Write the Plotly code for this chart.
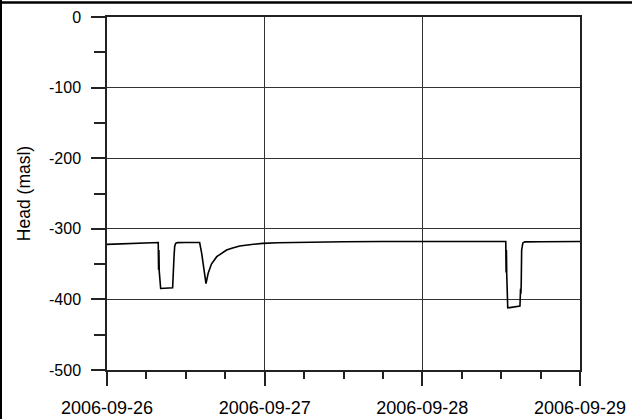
import plotly.graph_objects as go
import pandas as pd

# hours after 2006-09-26 00:00 and head values (masl)
hours = [0, 2, 4, 6, 7.8, 7.85, 7.9, 7.95, 8.17, 9.99, 10.2, 10.3, 10.45, 10.7,
         12, 14.1, 14.4, 14.7, 15.07, 15.4, 15.9, 16.7, 17.5, 18.2, 19.0, 20.2,
         22.0, 23.7, 26, 30, 36, 42, 48, 54, 60.7, 60.75, 60.8, 60.85, 61.0,
         62.86, 62.95, 63.0, 63.05, 63.12, 63.3, 63.6, 66, 72]
head = [-322, -321.2, -320.6, -320.0, -319.5, -358, -330, -360, -384.5, -383.5, -340, -325,
        -320.5, -319.6, -319.5, -319.5, -334, -356, -377.5, -363, -350, -339.5, -334, -330,
        -327.5, -324.4, -322.2, -320.6, -319.8, -319, -318.3, -318.0, -318, -317.8, -318, -362,
        -330, -365, -412, -409.5, -385, -392, -380, -330, -320, -318.5, -318.3, -318]

times = pd.Timestamp("2006-09-26") + pd.to_timedelta(hours, unit="h")

y_tickvals = [0, -100, -200, -300, -400, -500]
y_ticktext = ["0", "-100", "-200", "-300", "-400", "-500"]
x_tickvals = ["2006-09-26", "2006-09-27", "2006-09-28", "2006-09-29"]

fig = go.Figure()
fig.add_trace(go.Scatter(x=times, y=head, mode="lines",
                         line=dict(color="black", width=1.6), showlegend=False))

fam = "Liberation Sans, Arial, sans-serif"
fig.update_layout(
    width=632, height=419,
    margin=dict(l=107, r=52, t=17, b=49, autoexpand=False),
    paper_bgcolor="white", plot_bgcolor="white",
    font=dict(family=fam, size=18, color="black"),
    xaxis=dict(
        range=["2006-09-26", "2006-09-29"],
        tickvals=x_tickvals, ticktext=x_tickvals,
        tickfont=dict(family=fam, size=18, color="black"),
        showgrid=True, gridcolor="#333333", gridwidth=1,
        showline=True, linecolor="#222222", linewidth=1.5, mirror=True,
        ticks="outside", ticklen=14, tickwidth=1.5, tickcolor="#222222",
        minor=dict(dtick=6 * 3600 * 1000, ticks="outside", ticklen=7,
                   tickwidth=1.5, tickcolor="#222222", showgrid=False),
        ticklabelstandoff=7,
        zeroline=False, automargin=False,
    ),
    yaxis=dict(
        range=[-500, 0],
        tickvals=y_tickvals, ticktext=y_ticktext,
        tickfont=dict(family=fam, size=16, color="black"),
        showgrid=True, gridcolor="#333333", gridwidth=1,
        showline=True, linecolor="#222222", linewidth=1.5, mirror=True,
        ticks="outside", ticklen=14, tickwidth=1.5, tickcolor="#222222",
        minor=dict(tickvals=[-50, -150, -250, -350, -450], ticks="outside", ticklen=11,
                   tickwidth=1.5, tickcolor="#222222", showgrid=False),
        ticklabelstandoff=7,
        zeroline=False, automargin=False,
        title=dict(text="Head (masl)", standoff=14, font=dict(family=fam, size=17.5)),
    ),
    shapes=[
        dict(type="line", xref="paper", yref="paper", x0=-0.3, x1=1.2,
             y0=1 + 14.5 / 353, y1=1 + 14.5 / 353, line=dict(color="black", width=2.5)),
        dict(type="line", xref="paper", yref="paper", x0=-106 / 473, x1=-106 / 473,
             y0=-0.2, y1=1.1, line=dict(color="black", width=2)),
    ],
)

fig.write_html("out.html")
